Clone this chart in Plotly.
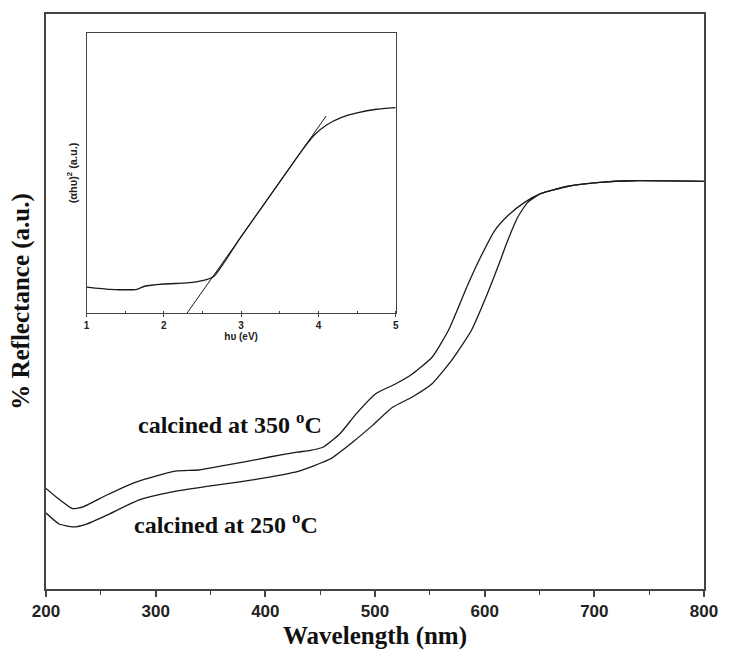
import plotly.graph_objects as go

# Main spectra (wavelength nm, reflectance a.u.)
wl_350 = [200, 212, 224, 234, 255, 282, 318, 339, 363, 381, 405, 429, 441, 453, 468, 483,
          501, 519, 534, 552, 567, 585, 597, 609, 621, 636, 651, 675, 705, 735, 800]
r_350 = [17.5, 15.6, 14.0, 14.3, 16.3, 18.6, 20.5, 20.7, 21.5, 22.1, 23.0, 23.8, 24.1, 24.7, 27.0, 30.5,
         34.0, 35.7, 37.4, 40.3, 45.0, 53.1, 58.0, 62.3, 64.9, 67.2, 68.75, 70.0, 70.7, 71.0, 70.9]

wl_250 = [200, 212, 225, 237, 255, 285, 315, 345, 375, 405, 429, 459, 480, 498, 516,
          534, 552, 570, 588, 600, 612, 621, 630, 639, 651, 675, 705, 735, 800]
r_250 = [13.2, 11.3, 10.8, 11.3, 12.8, 15.5, 16.9, 17.8, 18.6, 19.5, 20.4, 22.6, 25.6, 28.5, 31.6,
         33.4, 35.7, 39.8, 45.0, 50.2, 56.0, 60.6, 64.6, 67.2, 68.75, 70.0, 70.7, 71.0, 70.9]

# Inset Tauc plot
hv = [1.0, 1.3, 1.65, 1.75, 2.0, 2.3, 2.5, 2.65, 3.0, 3.5, 3.8, 3.95, 4.1, 4.3, 4.5, 4.75, 5.0]
ahv2 = [9.3, 8.5, 8.5, 9.6, 10.4, 10.8, 11.6, 13.2, 27.3, 46.8, 58.5, 63.6, 67.0, 69.8, 71.4, 72.7, 73.3]
tangent_x = [2.3, 4.1]
tangent_y = [0.0, 70.3]

main_ticks = [200, 300, 400, 500, 600, 700, 800]
inset_ticks = [1, 2, 3, 4, 5]

LC = "#1a1a1a"
AX = "#444444"

fig = go.Figure()
fig.add_trace(go.Scatter(x=wl_350, y=r_350, mode="lines", line=dict(color=LC, width=1.3, shape="spline", smoothing=0.5), showlegend=False))
fig.add_trace(go.Scatter(x=wl_250, y=r_250, mode="lines", line=dict(color=LC, width=1.3, shape="spline", smoothing=0.5), showlegend=False))
fig.add_trace(go.Scatter(x=hv, y=ahv2, mode="lines", line=dict(color=LC, width=1.3, shape="spline", smoothing=0.5), xaxis="x2", yaxis="y2", showlegend=False))
fig.add_trace(go.Scatter(x=tangent_x, y=tangent_y, mode="lines", line=dict(color=LC, width=1), xaxis="x2", yaxis="y2", showlegend=False))

fig.update_layout(
    width=730, height=664,
    margin=dict(l=46, r=18, t=13, b=75),
    paper_bgcolor="white", plot_bgcolor="white",
    xaxis=dict(range=[200, 800], tickvals=main_ticks, ticktext=[str(t) for t in main_ticks],
               ticks="outside", ticklen=6, tickwidth=1.5, tickcolor=AX,
               minor=dict(ticks="outside", ticklen=4, dtick=50, tickwidth=1.2, tickcolor=AX),
               showline=True, linecolor=AX, linewidth=1.5, mirror=True, showgrid=False, zeroline=False,
               tickfont=dict(family="Liberation Sans", size=17, color="#222", weight="bold"),
               title=dict(text="Wavelength (nm)", standoff=6,
                          font=dict(family="Liberation Serif", size=25, color="#111", weight="bold"))),
    yaxis=dict(range=[0, 100], showticklabels=False, ticks="", showline=True, linecolor=AX, linewidth=1.5,
               mirror=True, showgrid=False, zeroline=False,
               title=dict(text="% Reflectance (a.u.)", standoff=8,
                          font=dict(family="Liberation Serif", size=25, color="#111", weight="bold"))),
    xaxis2=dict(domain=[0.0616, 0.5315], anchor="y2", range=[1, 5], tickvals=inset_ticks,
                ticks="outside", ticklen=3, tickwidth=1, tickcolor=AX,
                minor=dict(ticks="inside", ticklen=2, dtick=0.5, tickcolor=AX),
                showline=True, linecolor=AX, linewidth=1.3, mirror=True, showgrid=False, zeroline=False,
                tickfont=dict(family="Liberation Sans", size=10, color="#222", weight="bold"),
                title=dict(text="hυ (eV)", standoff=1,
                           font=dict(family="Liberation Sans", size=10, color="#222", weight="bold"))),
    yaxis2=dict(domain=[0.4797, 0.9675], anchor="x2", range=[0, 100], showticklabels=False, ticks="",
                showline=True, linecolor=AX, linewidth=1.3, mirror=True, showgrid=False, zeroline=False,
                title=dict(text="(αhυ)<sup>2</sup> (a.u.)", standoff=5,
                           font=dict(family="Liberation Sans", size=11, color="#222", weight="bold"))),
    annotations=[
        dict(x=368, y=28.8, xref="x", yref="y", showarrow=False,
             text="calcined at 350 <sup>o</sup>C",
             font=dict(family="Liberation Serif", size=24, color="#111", weight="bold")),
        dict(x=364, y=11.5, xref="x", yref="y", showarrow=False,
             text="calcined at 250 <sup>o</sup>C",
             font=dict(family="Liberation Serif", size=24, color="#111", weight="bold")),
    ],
)

fig.write_html("out.html")
